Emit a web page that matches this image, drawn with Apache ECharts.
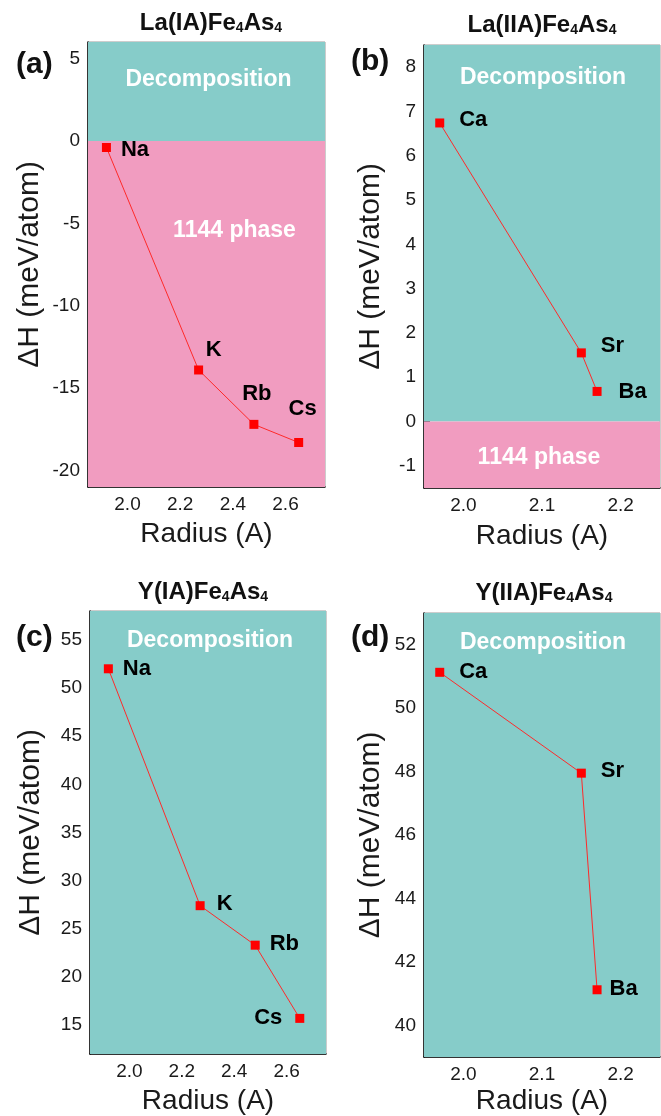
<!DOCTYPE html>
<html><head><meta charset="utf-8">
<script src="https://cdn.jsdelivr.net/npm/echarts@6/dist/echarts.min.js"></script>
<style>html,body{margin:0;padding:0;background:#fff}#c{width:661px;height:1116px}</style>
</head><body><div id="c"></div>
<script>
// ---- data ----
const radiusIA = [1.92, 2.27, 2.48, 2.65];
const namesIA = ['Na', 'K', 'Rb', 'Cs'];
const dH_La_IA = [-0.4, -13.9, -17.2, -18.3];
const dH_Y_IA = [52.0, 27.4, 23.3, 15.7];
const radiusIIA = [1.97, 2.15, 2.17];
const namesIIA = ['Ca', 'Sr', 'Ba'];
const dH_La_IIA = [6.74, 1.55, 0.68];
const dH_Y_IIA = [51.13, 47.95, 41.12];
const phaseBoundary = 0;

// ---- ticks ----
const xTicksIA = [2.0, 2.2, 2.4, 2.6];
const xMinorIA = [1.9, 2.1, 2.3, 2.5, 2.7];
const xTicksIIA = [2.0, 2.1, 2.2];
const xMinorIIA = [2.05, 2.15];
const yTicksA = [-20, -15, -10, -5, 0, 5];
const yMinorA = [-17.5, -12.5, -7.5, -2.5, 2.5];
const yTicksB = [-1, 0, 1, 2, 3, 4, 5, 6, 7, 8];
const yMinorB = [-0.5, 0.5, 1.5, 2.5, 3.5, 4.5, 5.5, 6.5, 7.5];
const yTicksC = [15, 20, 25, 30, 35, 40, 45, 50, 55];
const yMinorC = [12.5, 17.5, 22.5, 27.5, 32.5, 37.5, 42.5, 47.5, 52.5, 57.5];
const yTicksD = [40, 42, 44, 46, 48, 50, 52];
const yMinorD = [41, 43, 45, 47, 49, 51];

const FONT = "'Liberation Sans', Arial, sans-serif";
const TEAL = '#86CCC9';
const PINK = '#F19CC0';

const panels = [
  { tag: '(a)', tagPos: [16, 65], title: ['La(IA)Fe', 'As'], titlePos: [211, 23],
    grid: { left: 88, top: 42, width: 237, height: 445 },
    xr: [1.85, 2.75], xt: xTicksIA, xm: xMinorIA, yr: [-21, 6], yt: yTicksA, ym: yMinorA,
    xs: radiusIA, ys: dH_La_IA, names: namesIA, yGap: 43, xGap: 33,
    labels: [
      { position: 'right', distance: 10, offset: [0, 2] },
      { position: 'top', distance: 5, offset: [15, 0] },
      { position: 'top', distance: 5, offset: [3, -10] },
      { position: 'top', distance: 5, offset: [4, -13] }
    ],
    regions: [
      { name: 'Decomposition', lo: phaseBoundary, hi: 6, color: TEAL, label: { position: 'insideTop', offset: [2, 21] } },
      { name: '1144 phase', lo: -21, hi: phaseBoundary, color: PINK, label: { position: 'insideTop', offset: [28, 73] } }
    ] },
  { tag: '(b)', tagPos: [351, 62], title: ['La(IIA)Fe', 'As'], titlePos: [542, 25],
    grid: { left: 424, top: 45, width: 236, height: 443 },
    xr: [1.95, 2.25], xt: xTicksIIA, xm: xMinorIIA, yr: [-1.5, 8.5], yt: yTicksB, ym: yMinorB,
    xs: radiusIIA, ys: dH_La_IIA, names: namesIIA, yGap: 38, xGap: 34,
    labels: [
      { position: 'right', distance: 15, offset: [0, -3] },
      { position: 'right', distance: 15, offset: [0, -7] },
      { position: 'right', distance: 17, offset: [0, 1] }
    ],
    regions: [
      { name: 'Decomposition', lo: phaseBoundary, hi: 8.5, color: TEAL, label: { position: 'insideTop', offset: [1, 16] } },
      { name: '1144 phase', lo: -1.5, hi: phaseBoundary, color: PINK, label: { position: 'inside', offset: [-3, 3] } }
    ] },
  { tag: '(c)', tagPos: [16, 638], title: ['Y(IA)Fe', 'As'], titlePos: [203, 592],
    grid: { left: 90, top: 611, width: 236, height: 443 },
    xr: [1.85, 2.75], xt: xTicksIA, xm: xMinorIA, yr: [12, 58], yt: yTicksC, ym: yMinorC,
    xs: radiusIA, ys: dH_Y_IA, names: namesIA, yGap: 44, xGap: 33,
    labels: [
      { position: 'right', distance: 10, offset: [0, 0] },
      { position: 'right', distance: 12, offset: [0, -2] },
      { position: 'right', distance: 10, offset: [0, -1] },
      { position: 'left', distance: 13, offset: [0, 0] }
    ],
    regions: [
      { name: 'Decomposition', lo: 12, hi: 58, color: TEAL, label: { position: 'insideTop', offset: [2, 13] } }
    ] },
  { tag: '(d)', tagPos: [351, 638], title: ['Y(IIA)Fe', 'As'], titlePos: [544, 593],
    grid: { left: 424, top: 613, width: 236, height: 444 },
    xr: [1.95, 2.25], xt: xTicksIIA, xm: xMinorIIA, yr: [39, 53], yt: yTicksD, ym: yMinorD,
    xs: radiusIIA, ys: dH_Y_IIA, names: namesIIA, yGap: 38, xGap: 30,
    labels: [
      { position: 'right', distance: 15, offset: [0, 0] },
      { position: 'right', distance: 15, offset: [0, -2] },
      { position: 'right', distance: 8, offset: [0, -1] }
    ],
    regions: [
      { name: 'Decomposition', lo: 39, hi: 53, color: TEAL, label: { position: 'insideTop', offset: [1, 13] } }
    ] }
];

const grids = [], xAxes = [], yAxes = [], series = [], graphics = [];
panels.forEach((p, i) => {
  grids.push(Object.assign({ show: true, borderColor: '#9a9a9a', borderWidth: 1, backgroundColor: 'transparent' }, p.grid));
  const tickLbl = { fontSize: 19, color: '#1a1a1a', fontFamily: FONT };
  xAxes.push({
    gridIndex: i, type: 'value', min: p.xr[0], max: p.xr[1], position: 'bottom',
    axisLine: { show: true, onZero: false, lineStyle: { color: '#000', width: 1.5 } },
    axisTick: { show: true, inside: true, length: 6, customValues: p.xt, lineStyle: { color: '#000', width: 1.3 } },
    axisLabel: Object.assign({ customValues: p.xt, margin: 8, formatter: v => v.toFixed(1) }, tickLbl),
    splitLine: { show: false },
    name: 'Radius (A)', nameLocation: 'middle', nameGap: p.xGap,
    nameTextStyle: { fontSize: 28, color: '#1a1a1a', fontFamily: FONT }
  });
  xAxes.push({
    gridIndex: i, type: 'value', min: p.xr[0], max: p.xr[1], position: 'bottom',
    axisLine: { show: false, onZero: false },
    axisTick: { show: true, inside: true, length: 3, customValues: p.xm, lineStyle: { color: '#000', width: 1.2 } },
    axisLabel: { show: false }, splitLine: { show: false }
  });
  yAxes.push({
    gridIndex: i, type: 'value', min: p.yr[0], max: p.yr[1], position: 'left',
    axisLine: { show: true, onZero: false, lineStyle: { color: '#000', width: 1.5 } },
    axisTick: { show: true, inside: true, length: 6, customValues: p.yt, lineStyle: { color: '#000', width: 1.3 } },
    axisLabel: Object.assign({ customValues: p.yt, margin: 8 }, tickLbl),
    splitLine: { show: false },
    name: 'ΔH (meV/atom)', nameLocation: 'middle', nameGap: p.yGap,
    nameTextStyle: { fontSize: 30, color: '#1a1a1a', fontFamily: FONT }
  });
  yAxes.push({
    gridIndex: i, type: 'value', min: p.yr[0], max: p.yr[1], position: 'left',
    axisLine: { show: false, onZero: false },
    axisTick: { show: true, inside: true, length: 3, customValues: p.ym, lineStyle: { color: '#000', width: 1.2 } },
    axisLabel: { show: false }, splitLine: { show: false }
  });
  // background phase regions
  series.push({
    type: 'line', data: [], xAxisIndex: 2 * i, yAxisIndex: 2 * i, z: -1, silent: true,
    markArea: {
      silent: true,
      data: p.regions.map(r => [
        { name: r.name, yAxis: r.lo, itemStyle: { color: r.color, opacity: 1 },
          label: Object.assign({ show: true, color: '#fff', fontSize: 23, fontWeight: 'bold', fontFamily: FONT }, r.label) },
        { yAxis: r.hi }
      ])
    }
  });
  // data line
  series.push({
    type: 'line', xAxisIndex: 2 * i, yAxisIndex: 2 * i, z: 5,
    symbol: 'rect', symbolSize: 9, showAllSymbol: true,
    itemStyle: { color: '#ff0000' },
    lineStyle: { color: '#ff2a2a', width: 1 },
    label: { show: true, formatter: '{b}', fontSize: 22, fontWeight: 'bold', color: '#000', fontFamily: FONT },
    data: p.xs.map((x, k) => ({ value: [x, p.ys[k]], name: p.names[k], label: p.labels[k] }))
  });
  graphics.push({
    type: 'text', x: p.titlePos[0], y: p.titlePos[1],
    style: {
      text: `{b|${p.title[0]}}{s|4}{b|${p.title[1]}}{s|4}`,
      align: 'center', verticalAlign: 'middle',
      rich: {
        b: { fontSize: 24, fontWeight: 'bold', fill: '#111', fontFamily: FONT, verticalAlign: 'bottom' },
        s: { fontSize: 14, fontWeight: 'bold', fill: '#111', fontFamily: FONT, verticalAlign: 'bottom' }
      }
    }
  });
  graphics.push({
    type: 'text', x: p.tagPos[0], y: p.tagPos[1],
    style: { text: p.tag, fontSize: 30, fontWeight: 'bold', fill: '#111', fontFamily: FONT, align: 'left', verticalAlign: 'middle' }
  });
});

const chart = echarts.init(document.getElementById('c'), null, { renderer: 'canvas' });
chart.setOption({
  animation: false,
  backgroundColor: '#fff',
  grid: grids, xAxis: xAxes, yAxis: yAxes, series: series, graphic: graphics
});
</script>
</body></html>
